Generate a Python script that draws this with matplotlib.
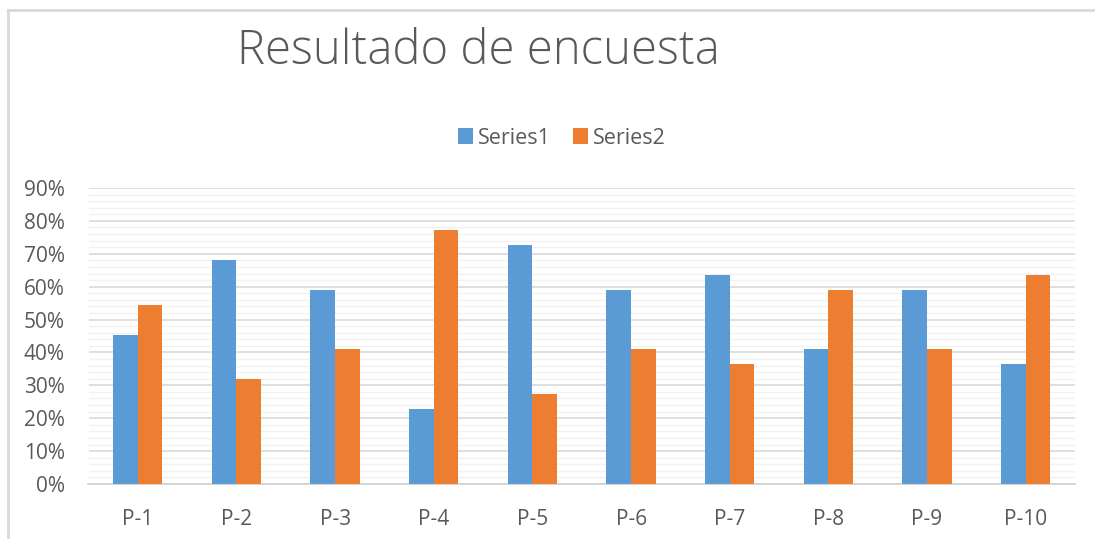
import matplotlib
matplotlib.use("Agg")
import matplotlib.pyplot as plt
import numpy as np
from matplotlib.ticker import MultipleLocator, FuncFormatter
from matplotlib.lines import Line2D

categories = ["P-1", "P-2", "P-3", "P-4", "P-5", "P-6", "P-7", "P-8", "P-9", "P-10"]
series1 = [0.4545, 0.6818, 0.5909, 0.2273, 0.7273, 0.5909, 0.6364, 0.4091, 0.5909, 0.3636]
series2 = [0.5455, 0.3182, 0.4091, 0.7727, 0.2727, 0.4091, 0.3636, 0.5909, 0.4091, 0.6364]
series_names = ["Series1", "Series2"]
title = "Resultado de encuesta"

W, H = 1095, 539
fig = plt.figure(figsize=(W / 100, H / 100), dpi=100)
plt.rcParams['font.family'] = ['Open Sans', 'DejaVu Sans']
txt = "#595959"

# outer chart border (top and left edges visible)
yt = 1 - 10 / H
xl = 7.5 / W
fig.add_artist(Line2D([xl, 1.01], [yt, yt], transform=fig.transFigure, color="#d9d9d9", linewidth=2))
fig.add_artist(Line2D([xl, xl], [-0.01, yt], transform=fig.transFigure, color="#d9d9d9", linewidth=2))

left, right = 88.5, 1075
top, bottom = 188, 484
ax = fig.add_axes([left / W, 1 - bottom / H, (right - left) / W, (bottom - top) / H])

x = np.arange(len(categories))
bw = 0.25
ax.bar(x - bw / 2, series1, bw, color="#5B9BD5", label=series_names[0], zorder=3)
ax.bar(x + bw / 2, series2, bw, color="#ED7D31", label=series_names[1], zorder=3)

ax.set_xlim(-0.5, len(categories) - 0.5)
ax.set_ylim(0, 0.9)
ax.yaxis.set_major_locator(MultipleLocator(0.1))
ax.yaxis.set_minor_locator(MultipleLocator(0.02))
ax.yaxis.set_major_formatter(FuncFormatter(lambda v, p: f"{v*100:.0f}%"))
ax.grid(axis="y", which="major", color="#d9d9d9", linewidth=1.2, zorder=0)
ax.grid(axis="y", which="minor", color="#f2f2f2", linewidth=1.0, zorder=0)
ax.set_xticks(x)
ax.set_xticklabels(categories)
for s in ["top", "right", "left"]:
    ax.spines[s].set_visible(False)
ax.spines["bottom"].set_color("#d0d0d0")
ax.spines["bottom"].set_linewidth(1.2)
ax.tick_params(axis="both", which="both", length=0, colors=txt, labelsize=15)
ax.tick_params(axis="y", pad=17)
ax.tick_params(axis="x", pad=18)

fig.text(478 / W, 1 - 52 / H, title, ha="center", va="center", fontsize=34,
         color=txt, fontweight="light")

handles, labels = ax.get_legend_handles_labels()
fig.legend(handles, labels, loc="center", bbox_to_anchor=(562 / W, 1 - 138 / H), ncol=2,
           frameon=False, fontsize=15.5, labelcolor=txt, handlelength=0.7, handleheight=0.7,
           handletextpad=0.25, columnspacing=1.0)

fig.savefig("out.png", dpi=100, facecolor="white")
